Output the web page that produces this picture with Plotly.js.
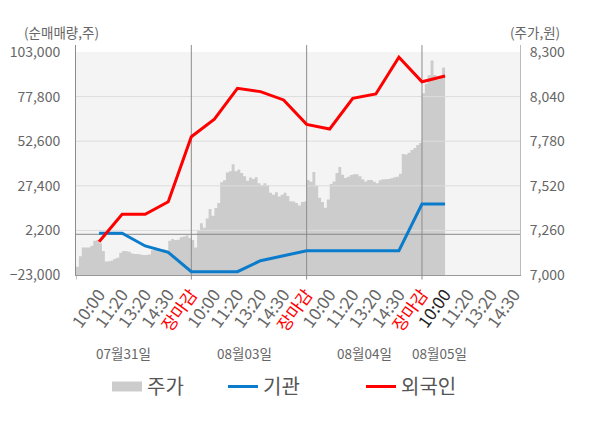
<!DOCTYPE html>
<html>
<head>
<meta charset="utf-8">
<script src="https://cdn.plot.ly/plotly-3.0.1.min.js"></script>
<style>
  html, body { margin: 0; padding: 0; background: #fff; }
  #chart { width: 600px; height: 428px; }
</style>
</head>
<body>
<div id="chart"></div>
<script>
// slots per trading day, and the days shown
const slotLabels = ['10:00', '11:20', '13:20', '14:30', '장마감'];
const dayLabels = ['07월31일', '08월03일', '08월04일', '08월05일'];

// net buying (shares), one value per slot from 07/31 10:00 to 08/05 10:00
const instNet = [560, 560, -6600, -10200, -21100, -21100, -21100, -14900, -12300, -9300, -9300, -9300, -9300, -9300, 17100, 17100];
const foreignNet = [-4200, 11300, 11300, 18400, 55100, 65100, 82500, 80600, 75900, 62100, 59500, 76800, 79300, 100000, 86200, 89400];

// share price (won), sampled along each day
const price0731 = [7048, 7110, 7160, 7160, 7160, 7170, 7200, 7204, 7185, 7140, 7078, 7080, 7085, 7095, 7100, 7130, 7140, 7138, 7135, 7125,
                   7122, 7122, 7120, 7117, 7117, 7120, 7145, 7146, 7146, 7140, 7150, 7146, 7200, 7210, 7204, 7205, 7220, 7225, 7230, 7215];
const price0803 = [7204, 7160, 7260, 7301, 7275, 7330, 7385, 7345, 7390, 7420, 7540, 7552, 7598, 7605, 7645, 7605, 7615, 7595, 7575, 7550,
                   7568, 7560, 7570, 7535, 7525, 7535, 7525, 7480, 7468, 7482, 7458, 7468, 7480, 7460, 7430, 7428, 7420, 7405, 7425, 7428];
const price0804 = [7554, 7544, 7600, 7520, 7450, 7425, 7392, 7440, 7530, 7545, 7595, 7630, 7585, 7566, 7573, 7583, 7587, 7587, 7575, 7558,
                   7545, 7554, 7554, 7544, 7535, 7552, 7558, 7558, 7560, 7564, 7570, 7573, 7590, 7705, 7702, 7713, 7728, 7740, 7758, 7770];
const price0805 = [8060, 8115, 8165, 8250, 8166, 8140, 8160, 8210];

// axis ticks
const leftTicks = [-23000, 2200, 27400, 52600, 77800, 103000];
const rightTicks = [7000, 7260, 7520, 7780, 8040, 8300];

const samplesPerDay = 40;
const slotsPerDay = slotLabels.length;
const xMax = 19.25;

// price samples -> slot coordinates
const priceDays = [price0731, price0803, price0804, price0805];
const px = [], py = [];
priceDays.forEach((arr, d) => {
    arr.forEach((v, i) => {
        px.push(d * slotsPerDay + i * slotsPerDay / samplesPerDay);
        py.push(v);
    });
});
px.push(px[px.length - 1] + slotsPerDay / samplesPerDay);
py.push(py[py.length - 1]);

const slotX = instNet.map((_, i) => i + 1);

// tick labels: close in red, latest slot dark, others gray
const tickVals = [], tickText = [];
dayLabels.forEach((_, d) => {
    slotLabels.forEach((s, j) => {
        const x = d * slotsPerDay + j + 1;
        tickVals.push(x);
        if (s === '장마감') tickText.push('<span style="color:#ff0000">' + s + '</span>');
        else if (x === slotX.length) tickText.push('<span style="color:#222">' + s + '</span>');
        else tickText.push(s);
    });
});

const padTop = 7 / 223;
const lRange = [leftTicks[0], leftTicks[5] + (leftTicks[5] - leftTicks[0]) * padTop];
const rRange = [rightTicks[0], rightTicks[5] + (rightTicks[5] - rightTicks[0]) * padTop];

// grid + day separators drawn over the price area, under the lines
const gridX = [], gridY = [];
rightTicks.slice(1, -1).forEach(v => { gridX.push(0, xMax, null); gridY.push(v, v, null); });
const sepX = [], sepY = [];
dayLabels.slice(1).forEach((_, d) => {
    const x = (d + 1) * slotsPerDay;
    sepX.push(x, x, null); sepY.push(rRange[0], rRange[1], null);
});

const font = 'Noto Sans CJK KR, Noto Sans, sans-serif';

const traces = [
    { x: px, y: py, yaxis: 'y', type: 'scatter', mode: 'lines',
      line: { width: 0, shape: 'hv', color: '#cccccc' },
      fill: 'tozeroy', fillcolor: '#cccccc', showlegend: false, hoverinfo: 'skip' },
    { x: gridX, y: gridY, yaxis: 'y', type: 'scatter', mode: 'lines',
      line: { width: 1, color: '#dcdcdc' }, showlegend: false, hoverinfo: 'skip' },
    { x: sepX, y: sepY, yaxis: 'y', type: 'scatter', mode: 'lines',
      line: { width: 1, color: '#8c8c8c' }, showlegend: false, hoverinfo: 'skip' },
    { x: [0, xMax], y: [0, 0], yaxis: 'y2', type: 'scatter', mode: 'lines',
      line: { width: 1, color: '#888' }, showlegend: false, hoverinfo: 'skip' },
    { x: [null], y: [null], yaxis: 'y', type: 'scatter', mode: 'lines', name: '주가',
      line: { width: 14, color: '#cccccc' }, legend: 'legend' },
    { x: slotX, y: instNet, yaxis: 'y2', name: '기관', type: 'scatter', mode: 'lines',
      line: { color: '#0a7ccb', width: 3 }, legend: 'legend2' },
    { x: slotX, y: foreignNet, yaxis: 'y2', name: '외국인', type: 'scatter', mode: 'lines',
      line: { color: '#ff0000', width: 3 }, legend: 'legend3' }
];

// background panel + small ticks under the axis at day boundaries
const shapes = [
    { type: 'rect', xref: 'paper', x0: 0, x1: 1, yref: 'y', y0: rightTicks[0], y1: rightTicks[5],
      fillcolor: '#f4f4f4', line: { width: 0 }, layer: 'below' }
];
dayLabels.forEach((_, d) => {
    shapes.push({ type: 'line', xref: 'x', x0: d * slotsPerDay, x1: d * slotsPerDay,
                  yref: 'paper', y0: -0.02, y1: 0, line: { color: '#8c8c8c', width: 1 } });
});

const annotations = [
    { xref: 'paper', yref: 'paper', x: -0.122, y: 1.057, xanchor: 'left', yanchor: 'middle',
      text: '(순매매량,주)', showarrow: false, font: { size: 13.5, color: '#666' } },
    { xref: 'paper', yref: 'paper', x: 1.095, y: 1.057, xanchor: 'right', yanchor: 'middle',
      text: '(주가,원)', showarrow: false, font: { size: 13.5, color: '#666' } }
];
const dayLabelX = [2.05, 7.3, 12.5, 15.75];
dayLabels.forEach((t, d) => {
    annotations.push({ xref: 'x', yref: 'paper', x: dayLabelX[d], y: -0.339, xanchor: 'center', yanchor: 'middle',
                       text: t, showarrow: false, font: { size: 13.5, color: '#666' } });
});

const legendBase = {
    orientation: 'h', xref: 'container', yref: 'container',
    y: 1 - 367 / 428, xanchor: 'left', yanchor: 'top',
    font: { size: 20, color: '#555' }, bgcolor: 'rgba(0,0,0,0)'
};

const layout = {
    width: 600, height: 428,
    margin: { l: 76, r: 80, t: 45, b: 153 },
    paper_bgcolor: '#ffffff', plot_bgcolor: '#ffffff',
    font: { family: font, size: 14, color: '#666' },
    showlegend: true,
    legend: Object.assign({}, legendBase, { x: 107 / 600 }),
    legend2: Object.assign({}, legendBase, { x: 223 / 600 }),
    legend3: Object.assign({}, legendBase, { x: 361 / 600 }),
    xaxis: {
        range: [0, xMax], fixedrange: true,
        tickmode: 'array', tickvals: tickVals, ticktext: tickText,
        tickangle: -54, ticks: '', showgrid: false, zeroline: false,
        showline: true, linecolor: '#999', linewidth: 1,
        tickfont: { size: 17, color: '#666' }, ticklabelstandoff: 2
    },
    yaxis: {
        range: rRange, fixedrange: true, side: 'right',
        tickmode: 'array', tickvals: rightTicks, tickformat: ',d',
        showgrid: false, zeroline: false,
        showline: true, linecolor: '#bbb', ticks: '',
        tickfont: { size: 14, color: '#666' }, ticklabelstandoff: 6
    },
    yaxis2: {
        range: lRange, fixedrange: true, overlaying: 'y', side: 'left',
        tickmode: 'array', tickvals: leftTicks, tickformat: ',d',
        showgrid: false, zeroline: false,
        showline: true, linecolor: '#8c8c8c', ticks: '',
        tickfont: { size: 14, color: '#666' }, ticklabelstandoff: 12
    },
    shapes: shapes,
    annotations: annotations,
    hovermode: false, dragmode: false
};

Plotly.newPlot('chart', traces, layout, { displayModeBar: false, staticPlot: true });
</script>
</body>
</html>
